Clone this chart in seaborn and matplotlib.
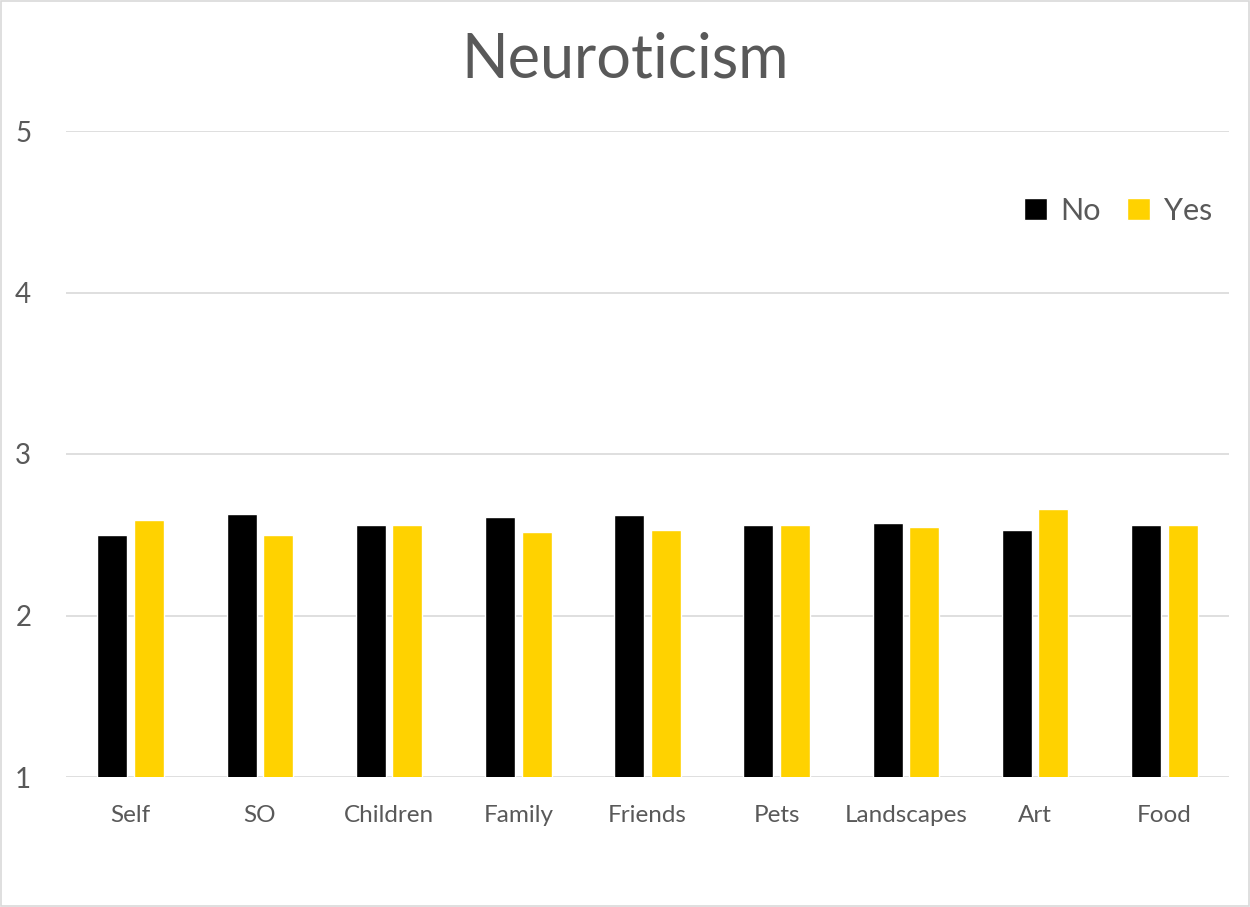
import matplotlib
matplotlib.use("Agg")
import matplotlib.pyplot as plt
import seaborn as sns
import pandas as pd
from matplotlib.patches import Rectangle

categories = ["Self", "SO", "Children", "Family", "Friends", "Pets", "Landscapes", "Art", "Food"]
no_values = [2.50, 2.63, 2.56, 2.61, 2.62, 2.56, 2.57, 2.53, 2.56]
yes_values = [2.59, 2.50, 2.56, 2.52, 2.53, 2.56, 2.55, 2.66, 2.56]
groups = ["No", "Yes"]
y_ticks = [1, 2, 3, 4, 5]

df = pd.DataFrame({
    "category": categories * 2,
    "group": ["No"] * len(categories) + ["Yes"] * len(categories),
    "score": no_values + yes_values,
})

sns.set_theme(style="white")
plt.rcParams["font.family"] = ["Lato", "DejaVu Sans"]

grey = "#595959"
fig = plt.figure(figsize=(12.5, 9.07), dpi=100)
ax = fig.add_axes([66 / 1250, 1 - 777 / 907, (1229 - 66) / 1250, (777 - 131) / 907])

sns.barplot(data=df, x="category", y="score", hue="group", order=categories,
            hue_order=groups, palette={"No": "#000000", "Yes": "#FFD200"},
            width=0.566, gap=0.18, ax=ax, zorder=3, saturation=1)

ax.set_ylim(1, 5)
ax.set_yticks(y_ticks)
ax.set_xlim(-0.5, len(categories) - 0.5)
ax.yaxis.grid(True, color="#D9D9D9", linewidth=1.2, zorder=0)
ax.set_axisbelow(True)
for s in ax.spines.values():
    s.set_visible(False)
ax.set_xlabel("")
ax.set_ylabel("")
ax.tick_params(axis="y", labelsize=20, labelcolor=grey, length=0, pad=25)
ax.tick_params(axis="x", labelsize=17.5, labelcolor=grey, length=0, pad=20)

fig.text(0.5, 1 - 60 / 907, "Neuroticism", ha="center", va="center",
         fontsize=44, color=grey)

leg = ax.legend(loc="upper right", bbox_to_anchor=(1.009, 0.941), frameon=False,
                fontsize=22, labelcolor=grey, handlelength=0.75, handleheight=0.75,
                handletextpad=0.45, columnspacing=0.85, ncol=2)

fig.patches.append(Rectangle((0.001, 0.001), 0.998, 0.998, transform=fig.transFigure,
                             fill=False, edgecolor="#D9D9D9", linewidth=1.2))

fig.savefig("out.png", dpi=100)
